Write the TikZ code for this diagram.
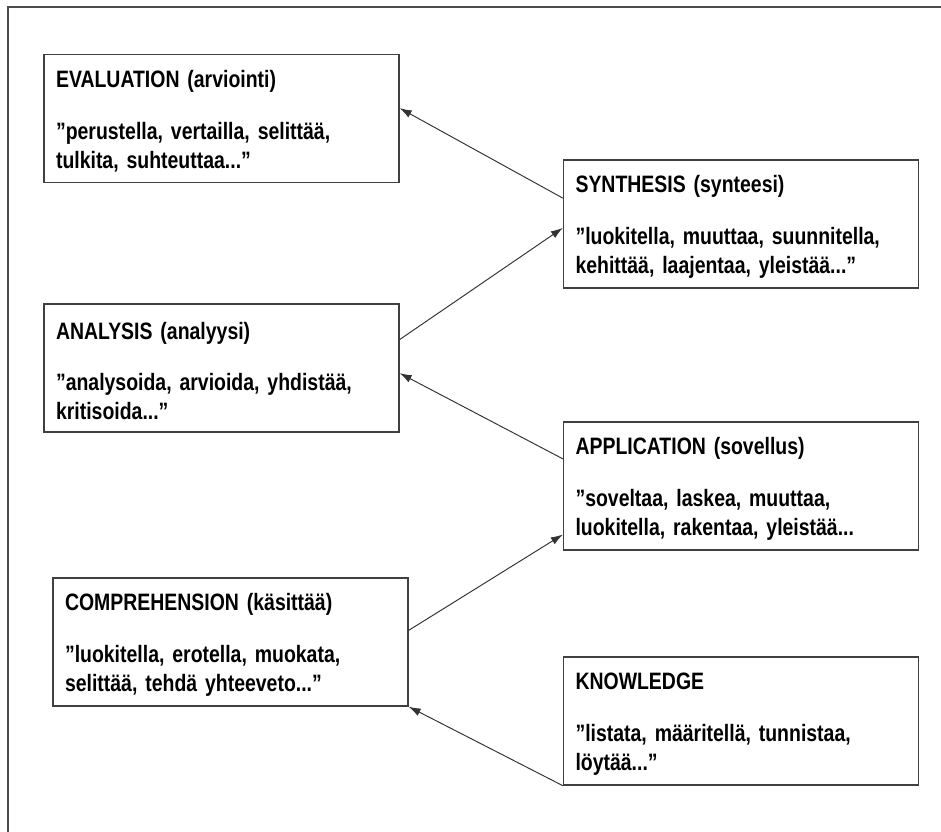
\documentclass[tikz,border=0pt]{standalone}
\usepackage{fontspec}
\setmainfont{Liberation Sans}[FakeStretch=0.82]
\usetikzlibrary{arrows.meta, calc}
\begin{document}
\begin{tikzpicture}[
    x=0.02cm, y=-0.02cm,
    level/.style={draw=black!75, line width=0.8pt, minimum height=2.56cm,
      inner xsep=0.24cm, text width=6.62cm, align=left,
      font=\fontsize{13.5}{16.4}\selectfont\bfseries,
      execute at begin node=\rule{0pt}{0.46cm}},
    flow/.style={-{Latex[length=2.4mm, width=1.6mm]}, line width=0.55pt, black!80},
]
\useasboundingbox (0,0) rectangle (941,832);
\draw[line width=1.1pt, black!70] (8,832) -- (8,7) -- (941,7);
\node[level] (eval) at (221.5,118.5)
   {EVALUATION (arviointi)\\[0.46cm]”perustella, vertailla, selittää,\\tulkita, suhteuttaa...”};
\node[level] (analysis) at (221.5,368)
   {ANALYSIS (analyysi)\\[0.46cm]”analysoida, arvioida, yhdistää,\\kritisoida...”};
\node[level] (comp) at (230.5,642)
   {COMPREHENSION (käsittää)\\[0.46cm]”luokitella, erotella, muokata,\\selittää, tehdä yhteeveto...”};
\node[level] (synth) at (741,224)
   {SYNTHESIS (synteesi)\\[0.46cm]”luokitella, muuttaa, suunnitella,\\kehittää, laajentaa, yleistää...”};
\node[level] (appl) at (741,486)
   {APPLICATION (sovellus)\\[0.46cm]”soveltaa, laskea, muuttaa,\\luokitella, rakentaa, yleistää...};
\node[level] (know) at (741,721)
   {KNOWLEDGE\\[0.46cm]”listata, määritellä, tunnistaa,\\löytää...”};
\draw[flow] ($(synth.north west)!0.30!(synth.south west)$) -- ($(eval.north east)!0.42!(eval.south east)$);
\draw[flow] ($(analysis.north east)!0.28!(analysis.south east)$) -- ($(synth.north west)!0.53!(synth.south west)$);
\draw[flow] ($(appl.north west)!0.29!(appl.south west)$) -- ($(analysis.north east)!0.54!(analysis.south east)$);
\draw[flow] ($(comp.north east)!0.41!(comp.south east)$) -- ($(appl.north west)!0.875!(appl.south west)$);
\draw[flow] (know.south west) -- (comp.south east);
\end{tikzpicture}
\end{document}
